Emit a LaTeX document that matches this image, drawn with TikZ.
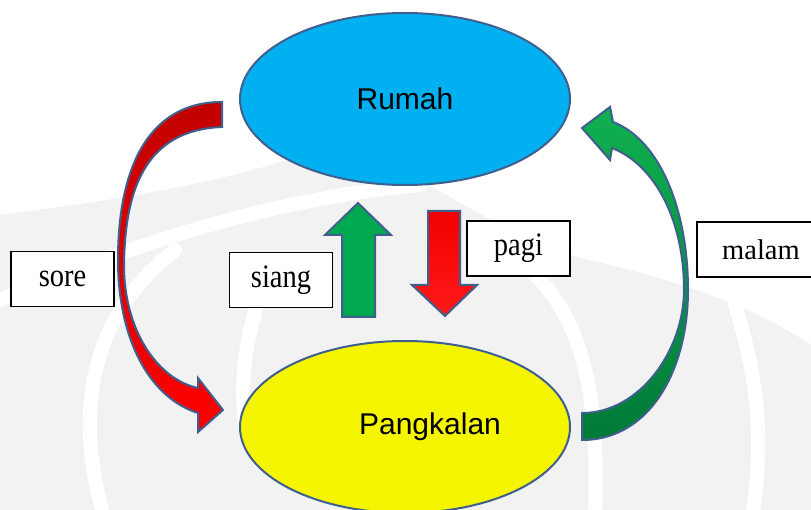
\documentclass[tikz,border=0pt]{standalone}
\usepackage{fontspec}
\usepackage{graphicx}
\setmainfont{Liberation Serif}
\newfontfamily\arialfont{Liberation Sans}
\usetikzlibrary{shapes.geometric}

\definecolor{rumahblue}{RGB}{0,176,240}
\definecolor{pangyellow}{RGB}{245,245,0}
\definecolor{rimblue}{RGB}{63,95,143}
\definecolor{redtop}{RGB}{192,0,0}
\definecolor{redbot}{RGB}{255,0,0}
\definecolor{greentop}{RGB}{16,176,80}
\definecolor{greenbot}{RGB}{0,122,55}
\definecolor{upgreen}{RGB}{0,168,80}
\definecolor{downred}{RGB}{242,0,0}
\definecolor{wmgray}{RGB}{242,242,242}

\begin{document}
\begin{tikzpicture}[x=1pt,y=-1pt,
  place/.style={ellipse, draw=rimblue, line width=2pt,
    minimum width=330pt, minimum height=172pt, inner sep=0pt,
    font=\arialfont\fontsize{30}{32}\selectfont},
  tag/.style={draw=black, line width=1.4pt, minimum width=103pt,
    minimum height=55pt, inner sep=0pt, font=\fontsize{28.5}{30}\selectfont},
  blockarrow/.style={draw=rimblue, line width=2pt, line join=miter},
  wmband/.style={draw=white, line width=14pt, line cap=round}]

\clip (0,0) rectangle (811,510);
\fill[white] (0,0) rectangle (811,510);

% faint background emblem
\fill[wmgray] (0,215) .. controls (120,200) and (280,175) .. (352,132)
  .. controls (430,190) and (520,240) .. (580,258)
  .. controls (680,280) and (760,310) .. (811,345)
  -- (811,510) -- (0,510) -- cycle;
\draw[wmband] (0,300) .. controls (120,250) and (260,200) .. (420,185);
\draw[wmband] (105,520) .. controls (75,420) and (85,320) .. (175,250);
\draw[wmband] (262,290) .. controls (245,340) and (240,380) .. (245,420);
\draw[wmband] (505,250) .. controls (580,300) and (600,380) .. (595,520);
\draw[wmband] (735,305) .. controls (765,400) and (760,460) .. (752,520);

% the two places
\node[place, fill=rumahblue] (rumah) at (405,99) {Rumah};
\node[place, fill=pangyellow] (pangkalan) at (405,427) {\hspace*{50pt}Pangkalan};

% sore: curved arrow from Rumah down to Pangkalan
\shadedraw[blockarrow, top color=redtop, bottom color=redbot]
  (222,102) .. controls (150,102) and (118,165) .. (118,260)
  .. controls (118,340) and (150,398) .. (198,413)
  -- (198,432) -- (223,410) -- (198,378) -- (198,388)
  .. controls (160,380) and (126,335) .. (124,270)
  .. controls (124,190) and (145,130) .. (222,127) -- cycle;

% malam: curved arrow from Pangkalan back up to Rumah
\shadedraw[blockarrow, top color=greentop, bottom color=greenbot]
  (582,440) .. controls (650,440) and (688,370) .. (688,290)
  .. controls (688,210) and (660,140) .. (613,122)
  -- (610,107) -- (582,128) -- (610,160) -- (612,148)
  .. controls (655,165) and (684,220) .. (684,290)
  .. controls (684,350) and (640,413) .. (582,413) -- cycle;

% siang: straight arrow up
\filldraw[blockarrow, fill=upgreen]
  (342,317) -- (342,235) -- (325,235) -- (358,203) -- (391,235)
  -- (375,235) -- (375,317) -- cycle;

% pagi: straight arrow down
\shadedraw[blockarrow, top color=downred, bottom color=red!90!white]
  (428,211) -- (460,211) -- (460,285) -- (477,285) -- (445,316)
  -- (412,285) -- (428,285) -- cycle;

% time-of-day labels
\node[tag, fill=white] (sore)  at (62.5,279)  {\scalebox{1}[1.15]{sore}};
\node[tag, fill=white] (siang) at (281,280)   {\scalebox{1}[1.15]{siang}};
\node[tag, fill=white] (pagi)  at (518.5,248.5) {\scalebox{1}[1.15]{pagi}};
\node[tag, fill=white, minimum width=128pt] (malam) at (761,249.5) {malam};
\end{tikzpicture}
\end{document}
